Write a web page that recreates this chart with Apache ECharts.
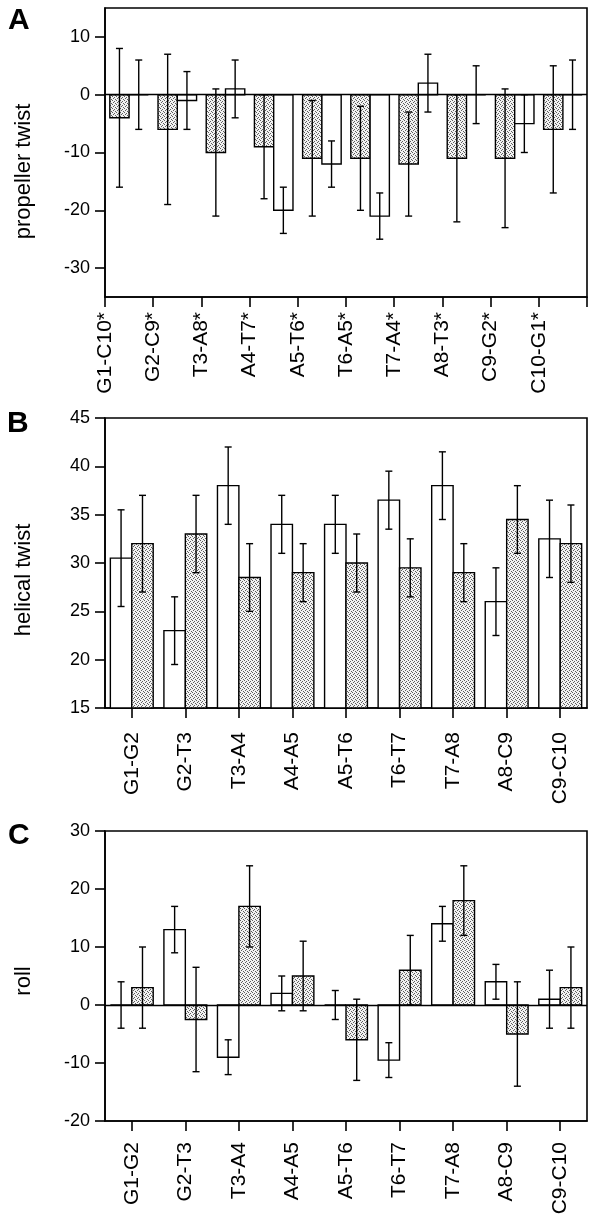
<!DOCTYPE html>
<html>
<head>
<meta charset="utf-8">
<script src="https://cdn.jsdelivr.net/npm/echarts@6/dist/echarts.min.js"></script>
<style>
html,body{margin:0;padding:0;background:#fff;}
#chart{width:600px;height:1221px;}
</style>
</head>
<body>
<div id="chart"></div>
<script>
// ---------- Panel A: propeller twist ----------
const catsA = ['G1-C10*','G2-C9*','T3-A8*','A4-T7*','A5-T6*','T6-A5*','T7-A4*','A8-T3*','C9-G2*','C10-G1*'];
const greyA   = [-4, -6, -10, -9, -11, -11, -12, -11, -11, -6];
const greyALo = [-16, -19, -21, -18, -21, -20, -21, -22, -23, -17];
const greyAHi = [8, 7, 1, 0, -1, -2, -3, 0, 1, 5];
const whiteA   = [0, -1, 1, -20, -12, -21, 2, 0, -5, 0];
const whiteALo = [-6, -6, -4, -24, -16, -25, -3, -5, -10, -6];
const whiteAHi = [6, 4, 6, -16, -8, -17, 7, 5, 0, 6];
const ticksA = [-30, -20, -10, 0, 10];

// ---------- Panel B: helical twist ----------
const catsB = ['G1-G2','G2-T3','T3-A4','A4-A5','A5-T6','T6-T7','T7-A8','A8-C9','C9-C10'];
const whiteB   = [30.5, 23, 38, 34, 34, 36.5, 38, 26, 32.5];
const whiteBLo = [25.5, 19.5, 34, 31, 31, 33.5, 34.5, 22.5, 28.5];
const whiteBHi = [35.5, 26.5, 42, 37, 37, 39.5, 41.5, 29.5, 36.5];
const greyB   = [32, 33, 28.5, 29, 30, 29.5, 29, 34.5, 32];
const greyBLo = [27, 29, 25, 26, 27, 26.5, 26, 31, 28];
const greyBHi = [37, 37, 32, 32, 33, 32.5, 32, 38, 36];

// ---------- Panel C: roll ----------
const catsC = ['G1-G2','G2-T3','T3-A4','A4-A5','A5-T6','T6-T7','T7-A8','A8-C9','C9-C10'];
const whiteC   = [0, 13, -9, 2, 0, -9.5, 14, 4, 1];
const whiteCLo = [-4, 9, -12, -1, -2.5, -12.5, 11, 1, -4];
const whiteCHi = [4, 17, -6, 5, 2.5, -6.5, 17, 7, 6];
const greyC   = [3, -2.5, 17, 5, -6, 6, 18, -5, 3];
const greyCLo = [-4, -11.5, 10, -1, -13, 0, 12, -14, -4];
const greyCHi = [10, 6.5, 24, 11, 1, 12, 24, 4, 10];

// stipple pattern for grey bars
const pc = document.createElement('canvas');
pc.width = 4; pc.height = 4;
const pctx = pc.getContext('2d');
pctx.fillStyle = '#f2f2f2'; pctx.fillRect(0,0,4,4);
pctx.fillStyle = '#5e5e5e';
[[0,0],[2,1],[1,2],[3,3]].forEach(p => pctx.fillRect(p[0], p[1], 1, 1));
const stipple = {image: pc, repeat: 'repeat'};

const FONT = "'Liberation Sans', Arial, Helvetica, sans-serif";
const LW = 1.4;

function rows(v, lo, hi) { return v.map((d, i) => [i, d, lo[i], hi[i]]); }

function makeRender(valueX, a, b, baseVal, fill) {
  return function (params, api) {
    const i = api.value(0), v = api.value(1), lo = api.value(2), hi = api.value(3);
    const xv = valueX ? i + 0.5 : i;
    const top = api.coord([xv, v]);
    const band = api.size([1, 0])[0];
    const base = api.coord([xv, baseVal])[1];
    const left = top[0] - band / 2;
    const x0 = left + a * band, x1 = left + b * band;
    const ex = (x0 + x1) / 2;
    const yLo = api.coord([xv, lo])[1], yHi = api.coord([xv, hi])[1];
    const cap = 3.5;
    const st = {stroke: '#000', lineWidth: LW};
    return {type: 'group', children: [
      {type: 'rect', shape: {x: x0, y: Math.min(top[1], base), width: x1 - x0, height: Math.abs(base - top[1])},
       style: {fill: fill, stroke: '#000', lineWidth: LW}},
      {type: 'line', shape: {x1: ex, y1: yLo, x2: ex, y2: yHi}, style: st},
      {type: 'line', shape: {x1: ex - cap, y1: yLo, x2: ex + cap, y2: yLo}, style: st},
      {type: 'line', shape: {x1: ex - cap, y1: yHi, x2: ex + cap, y2: yHi}, style: st}
    ]};
  };
}

const zeroLine = {
  silent: true, symbol: 'none', label: {show: false},
  lineStyle: {color: '#000', width: LW, type: 'solid'},
  data: [{yAxis: 0}]
};

const axisLineStyle = {show: true, onZero: false, lineStyle: {color: '#000', width: 1.6}};
const tickStyle = {show: true, length: 10, lineStyle: {color: '#000', width: 1.6}};

function yAxisBase(idx, name, padBottom) {
  return {
    type: 'value', gridIndex: idx, name: name, nameLocation: 'middle', nameGap: 70,
    nameTextStyle: {fontFamily: FONT, fontSize: 22, color: '#000', padding: [0, padBottom, 0, 0]},
    axisLine: axisLineStyle, axisTick: Object.assign({}, tickStyle),
    axisLabel: {fontFamily: FONT, fontSize: 18, color: '#000', margin: 15},
    splitLine: {show: false}
  };
}

const yA = yAxisBase(0, 'propeller twist', 38);
yA.min = -35; yA.max = 15;
yA.axisTick = Object.assign({}, tickStyle, {customValues: ticksA});
yA.axisLabel = Object.assign({}, yA.axisLabel, {customValues: ticksA});
const yB = yAxisBase(1, 'helical twist', 34);
yB.min = 15; yB.max = 45; yB.interval = 5;
const yC = yAxisBase(2, 'roll', 10);
yC.min = -20; yC.max = 30; yC.interval = 10;

const xLabel = (m, p) => ({fontFamily: FONT, fontSize: 21, color: '#000', rotate: 90, margin: m, padding: [p, 0, 0, 0]});

const option = {
  animation: false,
  backgroundColor: '#fff',
  grid: [
    {left: 105, right: 13, top: 8, height: 289, show: true, borderColor: '#000', borderWidth: 1.6},
    {left: 105, right: 13, top: 418, height: 290, show: true, borderColor: '#000', borderWidth: 1.6},
    {left: 105, right: 13, top: 831, height: 290, show: true, borderColor: '#000', borderWidth: 1.6}
  ],
  xAxis: [
    {type: 'value', gridIndex: 0, min: 0, max: catsA.length, interval: 1,
     axisLine: axisLineStyle, axisTick: tickStyle, splitLine: {show: false},
     axisLabel: Object.assign(xLabel(15, 14), {formatter: (v) => catsA[v] || '', showMaxLabel: true})},
    {type: 'category', gridIndex: 1, data: catsB, boundaryGap: true,
     axisLine: axisLineStyle, axisTick: Object.assign({alignWithLabel: true}, tickStyle), splitLine: {show: false},
     axisLabel: Object.assign(xLabel(24, 8), {interval: 0})},
    {type: 'category', gridIndex: 2, data: catsC, boundaryGap: true,
     axisLine: axisLineStyle, axisTick: Object.assign({alignWithLabel: true}, tickStyle), splitLine: {show: false},
     axisLabel: Object.assign(xLabel(21, 8), {interval: 0})}
  ],
  yAxis: [yA, yB, yC],
  graphic: [
    {type: 'text', left: 8, top: 6, style: {text: 'A', fontFamily: FONT, fontWeight: 'bold', fontSize: 30, fill: '#000'}},
    {type: 'text', left: 7, top: 409, style: {text: 'B', fontFamily: FONT, fontWeight: 'bold', fontSize: 30, fill: '#000'}},
    {type: 'text', left: 8, top: 821, style: {text: 'C', fontFamily: FONT, fontWeight: 'bold', fontSize: 30, fill: '#000'}}
  ],
  series: [
    {type: 'custom', xAxisIndex: 0, yAxisIndex: 0, renderItem: makeRender(true, 0.1, 0.5, 0, stipple),
     data: rows(greyA, greyALo, greyAHi), markLine: zeroLine, clip: false},
    {type: 'custom', xAxisIndex: 0, yAxisIndex: 0, renderItem: makeRender(true, 0.5, 0.9, 0, '#fff'),
     data: rows(whiteA, whiteALo, whiteAHi), clip: false},
    {type: 'custom', xAxisIndex: 1, yAxisIndex: 1, renderItem: makeRender(false, 0.1, 0.5, 15, '#fff'),
     data: rows(whiteB, whiteBLo, whiteBHi), clip: false},
    {type: 'custom', xAxisIndex: 1, yAxisIndex: 1, renderItem: makeRender(false, 0.5, 0.9, 15, stipple),
     data: rows(greyB, greyBLo, greyBHi), clip: false},
    {type: 'custom', xAxisIndex: 2, yAxisIndex: 2, renderItem: makeRender(false, 0.1, 0.5, 0, '#fff'),
     data: rows(whiteC, whiteCLo, whiteCHi), markLine: zeroLine, clip: false},
    {type: 'custom', xAxisIndex: 2, yAxisIndex: 2, renderItem: makeRender(false, 0.5, 0.9, 0, stipple),
     data: rows(greyC, greyCLo, greyCHi), clip: false}
  ]
};

const chart = echarts.init(document.getElementById('chart'), null, {renderer: 'canvas'});
chart.setOption(option);
</script>
</body>
</html>
